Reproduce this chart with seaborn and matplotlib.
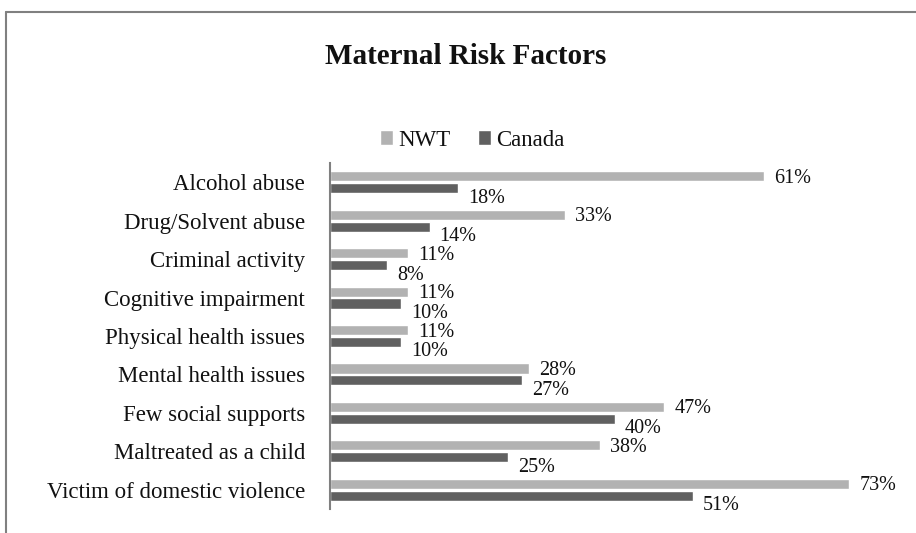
import matplotlib
matplotlib.use("Agg")
import matplotlib.pyplot as plt
import seaborn as sns
import pandas as pd
from matplotlib.lines import Line2D

categories = ["Alcohol abuse", "Drug/Solvent abuse", "Criminal activity",
              "Cognitive impairment", "Physical health issues", "Mental health issues",
              "Few social supports", "Maltreated as a child", "Victim of domestic violence"]
nwt = [61, 33, 11, 11, 11, 28, 47, 38, 73]
canada = [18, 14, 8, 10, 10, 27, 40, 25, 51]
series = ["NWT", "Canada"]
colors = ["#b2b2b2", "#606060"]

df = pd.DataFrame({
    "Factor": categories * 2,
    "Value": nwt + canada,
    "Region": [series[0]] * len(categories) + [series[1]] * len(categories),
})

sns.set_theme(style="white")
plt.rcParams["font.family"] = ["Liberation Serif", "DejaVu Serif"]

fig = plt.figure(figsize=(9.16, 5.33), dpi=100)
ax = fig.add_axes([330 / 916, 24 / 533, 569 / 916, 346 / 533])

sns.barplot(data=df, y="Factor", x="Value", hue="Region", order=categories,
            hue_order=series, palette=colors, orient="h", width=0.62, gap=0.15,
            ax=ax, saturation=1, legend=True)

ax.set_xlim(0, 80)
ax.set_ylim(len(categories) - 0.5, -0.5)
ax.set_xlabel("")
ax.set_ylabel("")
ax.set_xticks([])
ax.tick_params(axis="y", length=0, pad=18, labelsize=16.5, labelcolor="#111111")
for s in ["top", "right", "bottom"]:
    ax.spines[s].set_visible(False)
ax.spines["left"].set_color("#808080")
ax.spines["left"].set_linewidth(1.5)

# value labels
dys = [-2, -10]
for cont, dy in zip(ax.containers, dys):
    for bar in cont:
        w = bar.get_width()
        yc = bar.get_y() + bar.get_height() / 2
        ax.annotate(f"{w:.0f}%", (w, yc), xytext=(10, dy), textcoords="offset pixels",
                    ha="left", va="center", fontsize=14.5, color="#111111")

handles, labels = ax.get_legend_handles_labels()
ax.get_legend().remove()
fig.legend(handles, labels, loc="center", bbox_to_anchor=(472 / 916, 1 - 140 / 533),
           ncol=2, frameon=False, fontsize=16.5, handlelength=0.6, handleheight=0.6,
           handletextpad=0.2, columnspacing=1.2, labelcolor="#111111")

fig.text(466 / 916, 1 - 56 / 533, "Maternal Risk Factors", ha="center", va="center",
         fontsize=21, fontweight="bold", color="#111111")

# outer frame (left and top edges)
fig.add_artist(Line2D([6 / 916, 6 / 916], [0, 1 - 12 / 533], transform=fig.transFigure,
                      color="#808080", lw=1.5))
fig.add_artist(Line2D([6 / 916, 1], [1 - 12 / 533, 1 - 12 / 533], transform=fig.transFigure,
                      color="#808080", lw=1.5))

fig.savefig("out.png", dpi=100)
